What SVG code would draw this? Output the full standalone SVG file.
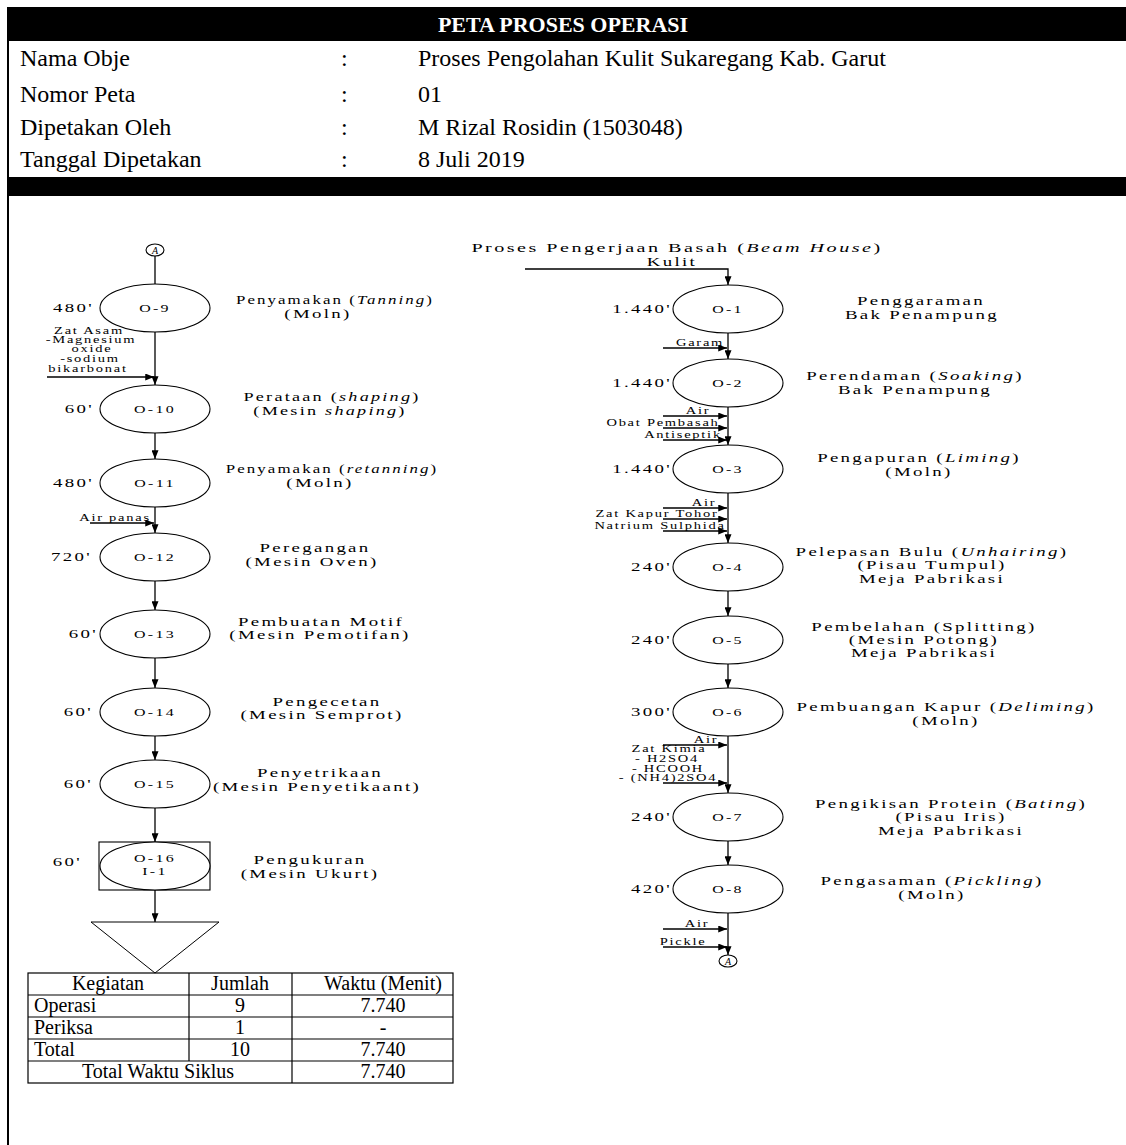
<svg xmlns="http://www.w3.org/2000/svg" width="1126" height="1145" viewBox="0 0 1126 1145">
<style>
text{font-family:"Liberation Serif","Times New Roman",serif;fill:#000}
.h{font-size:24px}
.ti{font-size:22px;font-weight:bold;text-anchor:middle;fill:#fff}
.tb{font-size:20px}
.tbc{font-size:20px;text-anchor:middle}
.d{font-size:13px;letter-spacing:1.6px;text-anchor:middle}
.t{font-size:13px;letter-spacing:1.6px;text-anchor:end}
.n{font-size:11px;letter-spacing:1.6px;text-anchor:middle}
.s{font-size:10px;letter-spacing:1.2px;text-anchor:middle}
.a{font-size:10px;text-anchor:middle;font-style:italic}
.i{font-style:italic}
.e{fill:#fff;stroke:#000;stroke-width:1.1}
.c{fill:none;stroke:#000;stroke-width:1.3}
.ca{fill:none;stroke:#000;stroke-width:1.3;marker-end:url(#ah)}
.tl{stroke:#000;stroke-width:1.2;fill:none}
</style>
<defs>
<marker id="ah" viewBox="0 0 10 8" refX="10" refY="4" markerWidth="9" markerHeight="7" markerUnits="userSpaceOnUse" orient="auto"><path d="M0,0 L10,4 L0,8 z" fill="#000"/></marker>
</defs>
<rect width="1126" height="1145" fill="#fff"/>
<g id="frame">
<rect x="7" y="7" width="1119" height="34" fill="#000"/>
<rect x="7" y="177" width="1119" height="19" fill="#000"/>
<line x1="8" y1="7" x2="8" y2="1145" stroke="#000" stroke-width="2"/>
<text class="ti" x="563" y="32">PETA PROSES OPERASI</text>
<text class="h" x="20" y="66">Nama Obje</text>
<text class="h" x="341" y="66">:</text>
<text class="h" x="418" y="66">Proses Pengolahan Kulit Sukaregang Kab. Garut</text>
<text class="h" x="20" y="102">Nomor Peta</text>
<text class="h" x="341" y="102">:</text>
<text class="h" x="418" y="102">01</text>
<text class="h" x="20" y="135">Dipetakan Oleh</text>
<text class="h" x="341" y="135">:</text>
<text class="h" x="418" y="135">M Rizal Rosidin (1503048)</text>
<text class="h" x="20" y="167">Tanggal Dipetakan</text>
<text class="h" x="341" y="167">:</text>
<text class="h" x="418" y="167">8 Juli 2019</text>
</g>

<g id="connectors">
<path class="c" d="M155,256 V284"/>
<path class="ca" d="M155,332 V385"/>
<path class="ca" d="M47,377 H154"/>
<path class="ca" d="M155,433 V459"/>
<path class="ca" d="M155,507 V533"/>
<path class="ca" d="M90,523 H154"/>
<path class="ca" d="M155,581 V610"/>
<path class="ca" d="M155,658 V688"/>
<path class="ca" d="M155,736 V760"/>
<path class="ca" d="M155,808 V842"/>
<path class="ca" d="M155,890 V922"/>
<path class="ca" d="M525,269 H728 V285"/>
<path class="ca" d="M728,333 V359"/>
<path class="ca" d="M663,348 H727"/>
<path class="ca" d="M728,407 V445"/>
<path class="ca" d="M663,416 H727"/>
<path class="ca" d="M663,428 H727"/>
<path class="ca" d="M663,440 H727"/>
<path class="ca" d="M728,493 V543"/>
<path class="ca" d="M663,508 H727"/>
<path class="ca" d="M663,519 H727"/>
<path class="ca" d="M663,531 H727"/>
<path class="ca" d="M728,591 V616"/>
<path class="ca" d="M728,664 V688"/>
<path class="ca" d="M728,736 V793"/>
<path class="ca" d="M663,745 H727"/>
<path class="ca" d="M663,783 H727"/>
<path class="ca" d="M728,841 V865"/>
<path class="ca" d="M728,913 V955"/>
<path class="ca" d="M663,929 H727"/>
<path class="ca" d="M663,947 H727"/>
<text class="s" transform="translate(89,334) scale(1.45 1)">Zat Asam</text>
<text class="s" transform="translate(91,343) scale(1.45 1)">-Magnesium</text>
<text class="s" transform="translate(92,352) scale(1.45 1)">oxide</text>
<text class="s" transform="translate(90,362) scale(1.45 1)">-sodium</text>
<text class="s" transform="translate(88,372) scale(1.45 1)">bikarbonat</text>
<text class="s" transform="translate(115,521) scale(1.45 1)">Air panas</text>
<text class="d" transform="translate(677,252) scale(1.55 1)">Proses Pengerjaan Basah (<tspan class="i">Beam House</tspan>)</text>
<text class="d" transform="translate(672,266) scale(1.45 1)">Kulit</text>
<text class="s" transform="translate(700,346) scale(1.45 1)">Garam</text>
<text class="s" transform="translate(698,414) scale(1.45 1)">Air</text>
<text class="s" transform="translate(663,426) scale(1.45 1)">Obat Pembasah</text>
<text class="s" transform="translate(683,438) scale(1.45 1)">Antiseptik</text>
<text class="s" transform="translate(704,506) scale(1.45 1)">Air</text>
<text class="s" transform="translate(657,517) scale(1.45 1)">Zat Kapur Tohor</text>
<text class="s" transform="translate(660,529) scale(1.45 1)">Natrium Sulphida</text>
<text class="s" transform="translate(706,743) scale(1.45 1)">Air</text>
<text class="s" transform="translate(669,752) scale(1.45 1)">Zat Kimia</text>
<text class="s" transform="translate(667,762) scale(1.45 1)">- H2SO4</text>
<text class="s" transform="translate(668,772) scale(1.45 1)">- HCOOH</text>
<text class="s" transform="translate(668,781) scale(1.45 1)">- (NH4)2SO4</text>
<text class="s" transform="translate(697,927) scale(1.45 1)">Air</text>
<text class="s" transform="translate(683,945) scale(1.45 1)">Pickle</text>
</g>

<g id="connA-top">
<ellipse class="e" cx="155" cy="250" rx="9" ry="6"/>
<text class="a" x="155" y="253.5">A</text>
</g>

<g id="o9">
<ellipse class="e" cx="155" cy="308" rx="55" ry="24"/>
<text class="n" transform="translate(155,312) scale(1.45 1)">O-9</text>
<text class="t" transform="translate(94,312) scale(1.45 1)">480'</text>
<text class="d" transform="translate(335,304) scale(1.3 1)">Penyamakan (<tspan class="i">Tanning</tspan>)</text>
<text class="d" transform="translate(318,318) scale(1.45 1)">(Moln)</text>
</g>
<g id="o10">
<ellipse class="e" cx="155" cy="409" rx="55" ry="24"/>
<text class="n" transform="translate(155,413) scale(1.45 1)">O-10</text>
<text class="t" transform="translate(94,413) scale(1.45 1)">60'</text>
<text class="d" transform="translate(332,401) scale(1.4 1)">Perataan (<tspan class="i">shaping</tspan>)</text>
<text class="d" transform="translate(330,415) scale(1.4 1)">(Mesin <tspan class="i">shaping</tspan>)</text>
</g>
<g id="o11">
<ellipse class="e" cx="155" cy="483" rx="55" ry="24"/>
<text class="n" transform="translate(155,487) scale(1.45 1)">O-11</text>
<text class="t" transform="translate(94,487) scale(1.45 1)">480'</text>
<text class="d" transform="translate(332,473) scale(1.3 1)">Penyamakan (<tspan class="i">retanning</tspan>)</text>
<text class="d" transform="translate(320,487) scale(1.45 1)">(Moln)</text>
</g>
<g id="o12">
<ellipse class="e" cx="155" cy="557" rx="55" ry="24"/>
<text class="n" transform="translate(155,561) scale(1.45 1)">O-12</text>
<text class="t" transform="translate(92,561) scale(1.45 1)">720'</text>
<text class="d" transform="translate(315,552) scale(1.45 1)">Peregangan</text>
<text class="d" transform="translate(312,566) scale(1.45 1)">(Mesin Oven)</text>
</g>
<g id="o13">
<ellipse class="e" cx="155" cy="634" rx="55" ry="24"/>
<text class="n" transform="translate(155,638) scale(1.45 1)">O-13</text>
<text class="t" transform="translate(98,638) scale(1.45 1)">60'</text>
<text class="d" transform="translate(321,626) scale(1.45 1)">Pembuatan Motif</text>
<text class="d" transform="translate(320,639) scale(1.45 1)">(Mesin Pemotifan)</text>
</g>
<g id="o14">
<ellipse class="e" cx="155" cy="712" rx="55" ry="24"/>
<text class="n" transform="translate(155,716) scale(1.45 1)">O-14</text>
<text class="t" transform="translate(93,716) scale(1.45 1)">60'</text>
<text class="d" transform="translate(327,706) scale(1.45 1)">Pengecetan</text>
<text class="d" transform="translate(322,719) scale(1.45 1)">(Mesin Semprot)</text>
</g>
<g id="o15">
<ellipse class="e" cx="155" cy="784" rx="55" ry="24"/>
<text class="n" transform="translate(155,788) scale(1.45 1)">O-15</text>
<text class="t" transform="translate(93,788) scale(1.45 1)">60'</text>
<text class="d" transform="translate(320,777) scale(1.45 1)">Penyetrikaan</text>
<text class="d" transform="translate(317,791) scale(1.45 1)">(Mesin Penyetikaant)</text>
</g>
<g id="o16">
<rect x="99" y="842" width="111" height="48" fill="#fff" stroke="#000" stroke-width="1.1"/>
<ellipse class="e" cx="155" cy="866" rx="55" ry="24"/>
<text class="n" transform="translate(155,862) scale(1.45 1)">O-16</text>
<text class="n" transform="translate(155,875) scale(1.45 1)">I-1</text>
<text class="t" transform="translate(82,866) scale(1.45 1)">60'</text>
<text class="d" transform="translate(310,864) scale(1.45 1)">Pengukuran</text>
<text class="d" transform="translate(310,878) scale(1.45 1)">(Mesin Ukurt)</text>
</g>
<g id="storage">
<polygon points="91,922 219,922 155,973" fill="#fff" stroke="#000" stroke-width="1"/>
</g>

<g id="o1">
<ellipse class="e" cx="728" cy="309" rx="55" ry="24"/>
<text class="n" transform="translate(728,313) scale(1.45 1)">O-1</text>
<text class="t" transform="translate(672,313) scale(1.45 1)">1.440'</text>
<text class="d" transform="translate(921,305) scale(1.45 1)">Penggaraman</text>
<text class="d" transform="translate(922,319) scale(1.45 1)">Bak Penampung</text>
</g>
<g id="o2">
<ellipse class="e" cx="728" cy="383" rx="55" ry="24"/>
<text class="n" transform="translate(728,387) scale(1.45 1)">O-2</text>
<text class="t" transform="translate(672,387) scale(1.45 1)">1.440'</text>
<text class="d" transform="translate(915,380) scale(1.45 1)">Perendaman (<tspan class="i">Soaking</tspan>)</text>
<text class="d" transform="translate(915,394) scale(1.45 1)">Bak Penampung</text>
</g>
<g id="o3">
<ellipse class="e" cx="728" cy="469" rx="55" ry="24"/>
<text class="n" transform="translate(728,473) scale(1.45 1)">O-3</text>
<text class="t" transform="translate(672,473) scale(1.45 1)">1.440'</text>
<text class="d" transform="translate(919,462) scale(1.45 1)">Pengapuran (<tspan class="i">Liming</tspan>)</text>
<text class="d" transform="translate(919,476) scale(1.45 1)">(Moln)</text>
</g>
<g id="o4">
<ellipse class="e" cx="728" cy="567" rx="55" ry="24"/>
<text class="n" transform="translate(728,571) scale(1.45 1)">O-4</text>
<text class="t" transform="translate(672,571) scale(1.45 1)">240'</text>
<text class="d" transform="translate(932,556) scale(1.45 1)">Pelepasan Bulu (<tspan class="i">Unhairing</tspan>)</text>
<text class="d" transform="translate(932,569) scale(1.45 1)">(Pisau Tumpul)</text>
<text class="d" transform="translate(932,583) scale(1.45 1)">Meja Pabrikasi</text>
</g>
<g id="o5">
<ellipse class="e" cx="728" cy="640" rx="55" ry="24"/>
<text class="n" transform="translate(728,644) scale(1.45 1)">O-5</text>
<text class="t" transform="translate(672,644) scale(1.45 1)">240'</text>
<text class="d" transform="translate(924,631) scale(1.45 1)">Pembelahan (Splitting)</text>
<text class="d" transform="translate(924,644) scale(1.45 1)">(Mesin Potong)</text>
<text class="d" transform="translate(924,657) scale(1.45 1)">Meja Pabrikasi</text>
</g>
<g id="o6">
<ellipse class="e" cx="728" cy="712" rx="55" ry="24"/>
<text class="n" transform="translate(728,716) scale(1.45 1)">O-6</text>
<text class="t" transform="translate(672,716) scale(1.45 1)">300'</text>
<text class="d" transform="translate(946,711) scale(1.45 1)">Pembuangan Kapur (<tspan class="i">Deliming</tspan>)</text>
<text class="d" transform="translate(946,725) scale(1.45 1)">(Moln)</text>
</g>
<g id="o7">
<ellipse class="e" cx="728" cy="817" rx="55" ry="24"/>
<text class="n" transform="translate(728,821) scale(1.45 1)">O-7</text>
<text class="t" transform="translate(672,821) scale(1.45 1)">240'</text>
<text class="d" transform="translate(951,808) scale(1.45 1)">Pengikisan Protein (<tspan class="i">Bating</tspan>)</text>
<text class="d" transform="translate(951,821) scale(1.45 1)">(Pisau Iris)</text>
<text class="d" transform="translate(951,835) scale(1.45 1)">Meja Pabrikasi</text>
</g>
<g id="o8">
<ellipse class="e" cx="728" cy="889" rx="55" ry="24"/>
<text class="n" transform="translate(728,893) scale(1.45 1)">O-8</text>
<text class="t" transform="translate(672,893) scale(1.45 1)">420'</text>
<text class="d" transform="translate(932,885) scale(1.45 1)">Pengasaman (<tspan class="i">Pickling</tspan>)</text>
<text class="d" transform="translate(932,899) scale(1.45 1)">(Moln)</text>
</g>
<g id="connA-bottom">
<ellipse class="e" cx="728" cy="961" rx="9" ry="6"/>
<text class="a" x="728" y="964.5">A</text>
</g>

<g id="summary-table">
<rect class="tl" x="28" y="973" width="425" height="110" stroke-width="1.5"/>
<line class="tl" x1="28" y1="995" x2="453" y2="995"/>
<line class="tl" x1="28" y1="1017" x2="453" y2="1017"/>
<line class="tl" x1="28" y1="1039" x2="453" y2="1039"/>
<line class="tl" x1="28" y1="1061" x2="453" y2="1061"/>
<line class="tl" x1="189" y1="973" x2="189" y2="1061"/>
<line class="tl" x1="292" y1="973" x2="292" y2="1083"/>
<text class="tbc" x="108" y="990">Kegiatan</text>
<text class="tbc" x="240" y="990">Jumlah</text>
<text class="tbc" x="383" y="990">Waktu (Menit)</text>
<text class="tb" x="34" y="1012">Operasi</text>
<text class="tbc" x="240" y="1012">9</text>
<text class="tbc" x="383" y="1012">7.740</text>
<text class="tb" x="34" y="1034">Periksa</text>
<text class="tbc" x="240" y="1034">1</text>
<text class="tbc" x="383" y="1034">-</text>
<text class="tb" x="34" y="1056">Total</text>
<text class="tbc" x="240" y="1056">10</text>
<text class="tbc" x="383" y="1056">7.740</text>
<text class="tbc" x="158" y="1078">Total Waktu Siklus</text>
<text class="tbc" x="383" y="1078">7.740</text>
</g>
</svg>
